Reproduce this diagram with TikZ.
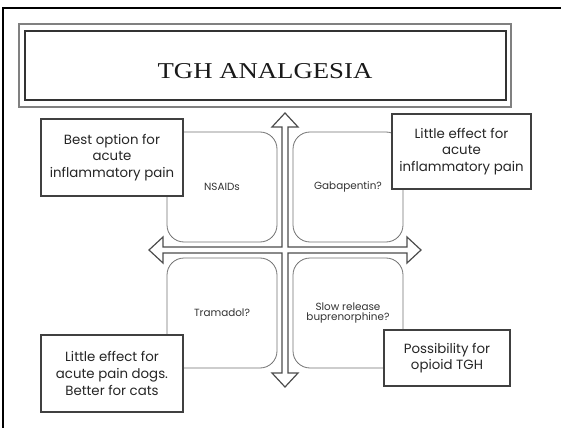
\documentclass[tikz,border=0pt]{standalone}
\usepackage{fontspec}
\setmainfont{Liberation Serif}
\newfontfamily\titlefont[FakeStretch=1.18]{Liberation Serif}
\newfontfamily\gothic{Poppins}
\begin{document}
\begin{tikzpicture}[x=0.75pt,y=-0.75pt,
  quad/.style={draw=black!55, line width=0.6pt, fill=white, rounded corners=12.75pt,
    minimum width=82.5pt, minimum height=82.5pt, inner sep=0pt, align=center,
    font=\gothic\fontsize{7.8}{8.6}\selectfont, text=black!80},
  callout/.style={draw=black!75, line width=1pt, fill=white, inner sep=0pt, align=center,
    font=\gothic\fontsize{10}{12.5}\selectfont, text=black!85},
  crossline/.style={draw=black!70, line width=0.9pt, fill=white, line join=miter}
]
\useasboundingbox (0,0) rectangle (561,428);
\fill[white] (0,0) rectangle (561,428);
% outer slide frame
\draw[line width=1.6pt] (3,8) rectangle (600,470);
% title
\node[draw=black!50, line width=1pt, minimum width=369pt, minimum height=62.25pt, inner sep=0pt] (titleouter) at (265,65.5) {};
\node[draw=black!80, line width=0.8pt, minimum width=360.75pt, minimum height=51.75pt, inner sep=0pt] (titleinner) at (265.5,65.5) {};
\node[font=\titlefont\fontsize{17}{20}\selectfont, text=black!90] (title) at (265,71) {TGH ANALGESIA};
% quadrant boxes
\node[quad] (nsaid) at (222,187) {NSAIDs};
\node[quad] (gaba) at (348,187) {Gabapentin?};
\node[quad] (tram) at (222,313) {Tramadol?};
\node[quad] (bup) at (348,313) {Slow release\\[-1.5pt]buprenorphine?};
% cross of arrows
\coordinate (c) at (285,250);
\draw[crossline] (285,113) -- (298,127) -- (288,127) -- (288,247) -- (407,247) -- (407,237)
  -- (421,250) -- (407,263) -- (407,253) -- (288,253) -- (288,373) -- (298,373)
  -- (285,387) -- (272,373) -- (282,373) -- (282,253) -- (163,253) -- (163,263)
  -- (149,250) -- (163,237) -- (163,247) -- (282,247) -- (282,127) -- (272,127) -- cycle;
% callouts
\node[callout, minimum width=106.5pt, minimum height=57.75pt] (c1) at (112,157.5) {Best option for\\acute\\inflammatory pain};
\node[callout, minimum width=104.25pt, minimum height=56.25pt] (c2) at (461.5,151.5) {Little effect for\\acute\\inflammatory pain};
\node[callout, minimum width=106.5pt, minimum height=57.75pt] (c3) at (112,373.5) {Little effect for\\acute pain dogs.\\Better for cats};
\node[callout, minimum width=94.5pt, minimum height=42pt] (c4) at (447,358) {Possibility for\\opioid TGH};
\end{tikzpicture}
\end{document}
